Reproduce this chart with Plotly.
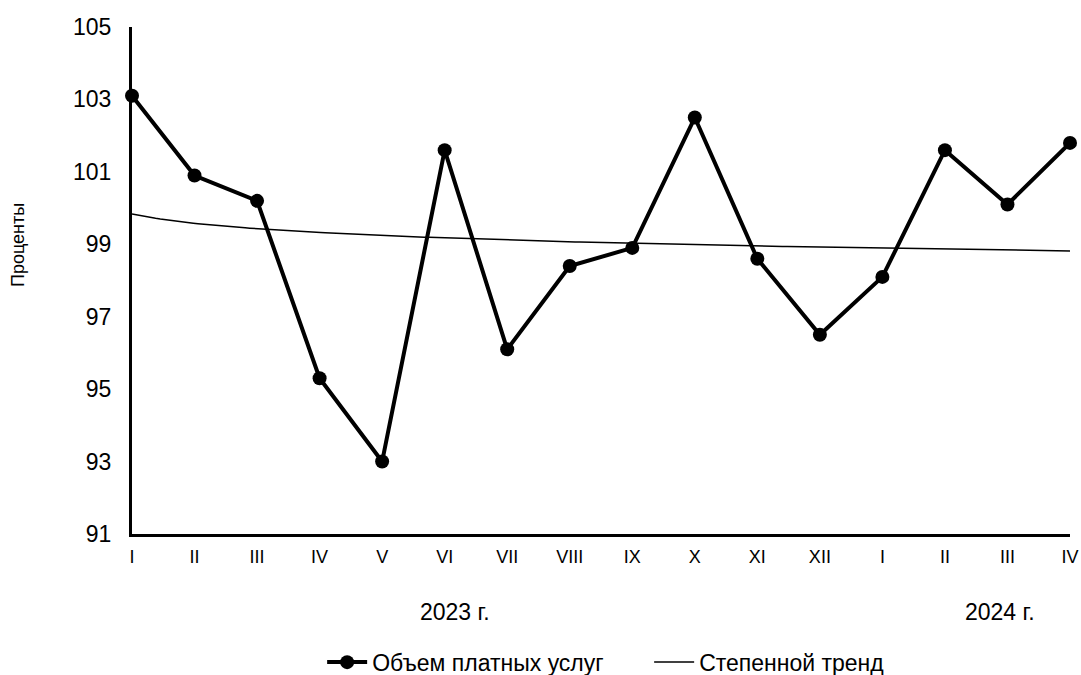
import numpy as np
import plotly.graph_objects as go

months = ["I", "II", "III", "IV", "V", "VI", "VII", "VIII", "IX", "X", "XI", "XII",
          "I", "II", "III", "IV"]
values = [103.1, 100.9, 100.2, 95.3, 93.0, 101.6, 96.1, 98.4, 98.9, 102.5, 98.6, 96.5,
          98.1, 101.6, 100.1, 101.8]
year_labels = ["2023 г.", "2024 г."]
series_name = "Объем платных услуг"
trend_name = "Степенной тренд"

x_idx = list(range(len(months)))

# Power trend (Excel-style): y = a * x^b, fitted on ln-ln
xn = np.arange(1, len(values) + 1, dtype=float)
b, ln_a = np.polyfit(np.log(xn), np.log(values), 1)
xt = np.linspace(1, len(values), 200)
trend = np.exp(ln_a) * xt ** b

fig = go.Figure()
fig.add_trace(go.Scatter(
    x=x_idx, y=values, mode="lines+markers", name=series_name,
    line=dict(color="black", width=4),
    marker=dict(color="black", size=14),
    cliponaxis=False,
))
fig.add_trace(go.Scatter(
    x=xt - 1, y=trend, mode="lines", name=trend_name,
    line=dict(color="black", width=1.5),
))

fig.update_layout(
    width=1081, height=675,
    margin=dict(l=132, r=11, t=27, b=141, autoexpand=False),
    paper_bgcolor="white", plot_bgcolor="white",
    font=dict(family="Arial", color="black"),
    showlegend=True,
    legend=dict(orientation="h", x=0.298, xanchor="left", xref="container",
                y=0.019, yanchor="middle", yref="container",
                font=dict(family="Arial", size=23),
                itemwidth=40, tracegroupgap=0,
                entrywidth=272, entrywidthmode="pixels"),
    xaxis=dict(
        range=[0, len(months) - 1],
        tickmode="array", tickvals=x_idx, ticktext=months,
        showgrid=False, zeroline=False,
        showline=True, linecolor="black", linewidth=3,
        ticks="", tickfont=dict(family="Arial", size=18),
        ticklabelstandoff=4,
    ),
    yaxis=dict(
        range=[91, 105], dtick=2, tick0=91,
        showgrid=False, zeroline=False,
        showline=True, linecolor="black", linewidth=3,
        ticks="", tickfont=dict(family="Arial", size=23),
        ticklabelstandoff=13,
    ),
    annotations=[
        dict(text="Проценты", xref="paper", yref="paper", x=-0.1215, y=0.57,
             textangle=-90, showarrow=False, font=dict(size=18),
             xanchor="center", yanchor="middle"),
        dict(text=year_labels[0], xref="paper", yref="paper", x=0.344, y=-0.154,
             showarrow=False, font=dict(size=23), xanchor="center", yanchor="middle"),
        dict(text=year_labels[1], xref="paper", yref="paper", x=0.925, y=-0.154,
             showarrow=False, font=dict(size=23), xanchor="center", yanchor="middle"),
    ],
)

fig.write_html("out.html", config={"displayModeBar": False},
               post_script="document.body.style.margin='0';document.body.style.overflow='hidden';")
